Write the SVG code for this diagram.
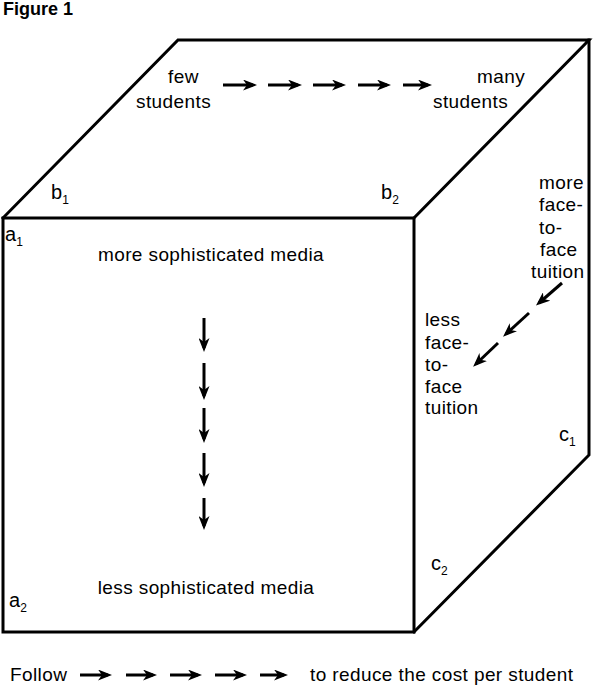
<svg xmlns="http://www.w3.org/2000/svg" width="593" height="686" viewBox="0 0 593 686">
<style>
.edge{fill:none;stroke:#000;stroke-width:3;stroke-linejoin:miter;stroke-linecap:square}
.arr{fill:none;stroke:#000;stroke-width:3;marker-end:url(#head)}
text{font-family:"Liberation Sans",Arial,sans-serif;font-size:19px;letter-spacing:0.4px;fill:#000}
.corner{font-size:20px;letter-spacing:0}
.sub{font-size:12px;letter-spacing:0}
.title{font-weight:bold;font-size:18px;letter-spacing:0}
</style>
<defs>
<marker id="head" viewBox="0 0 14 11" refX="10" refY="5.5" markerWidth="14" markerHeight="11" markerUnits="userSpaceOnUse" orient="auto">
<path d="M0,0 L14,5.5 L0,11 L4,5.5 Z" fill="#000"/>
</marker>
</defs>
<rect width="593" height="686" fill="#fff"/>
<text class="title" x="3" y="15">Figure 1</text>
<g id="cube">
<rect class="edge" x="3" y="218" width="411" height="414"/>
<polyline class="edge" points="3,218 178,40 589,40 414,218"/>
<polyline class="edge" points="589,40 589,455 414,632"/>
</g>
<g id="corner-labels">
<text class="corner" x="5" y="241">a<tspan class="sub" dx="0" dy="5">1</tspan></text>
<text class="corner" x="9" y="607">a<tspan class="sub" dx="0" dy="5">2</tspan></text>
<text class="corner" x="51" y="199">b<tspan class="sub" dx="0" dy="5">1</tspan></text>
<text class="corner" x="381" y="199">b<tspan class="sub" dx="0" dy="5">2</tspan></text>
<text class="corner" x="559" y="441">c<tspan class="sub" dx="0" dy="5">1</tspan></text>
<text class="corner" x="431" y="570">c<tspan class="sub" dx="0" dy="5">2</tspan></text>
</g>
<g id="top-labels">
<text x="168" y="83">few</text>
<text x="136" y="108">students</text>
<text x="477" y="83">many</text>
<text x="433" y="108">students</text>
</g>
<g id="front-labels">
<text x="211" y="261" text-anchor="middle">more sophisticated media</text>
<text x="206" y="594" text-anchor="middle">less sophisticated media</text>
</g>
<g id="side-labels">
<text x="539" y="189">more</text>
<text x="539" y="211">face-</text>
<text x="539" y="234">to-</text>
<text x="540" y="256">face</text>
<text x="531" y="278">tuition</text>
<text x="425" y="326">less</text>
<text x="425" y="349">face-</text>
<text x="425" y="371">to-</text>
<text x="425" y="393">face</text>
<text x="425" y="414">tuition</text>
</g>
<g id="bottom-labels">
<text x="10" y="681">Follow</text>
<text x="310" y="681">to reduce the cost per student</text>
</g>
<g id="connectors">
<path class="arr" d="M223,85 H253"/>
<path class="arr" d="M268,85 H298"/>
<path class="arr" d="M313,85 H342"/>
<path class="arr" d="M358,85 H387"/>
<path class="arr" d="M403,85 H428"/>
<path class="arr" d="M204,318 V348"/>
<path class="arr" d="M204,363 V396"/>
<path class="arr" d="M204,408 V439"/>
<path class="arr" d="M204,453 V483"/>
<path class="arr" d="M204,498 V526"/>
<path class="arr" d="M562,283 L539,303"/>
<path class="arr" d="M529,313 L506,334"/>
<path class="arr" d="M498,343 L476,364"/>
<path class="arr" d="M80,675 H108"/>
<path class="arr" d="M126,675 H153"/>
<path class="arr" d="M170,675 H198"/>
<path class="arr" d="M215,675 H243"/>
<path class="arr" d="M260,675 H284"/>
</g>
</svg>
